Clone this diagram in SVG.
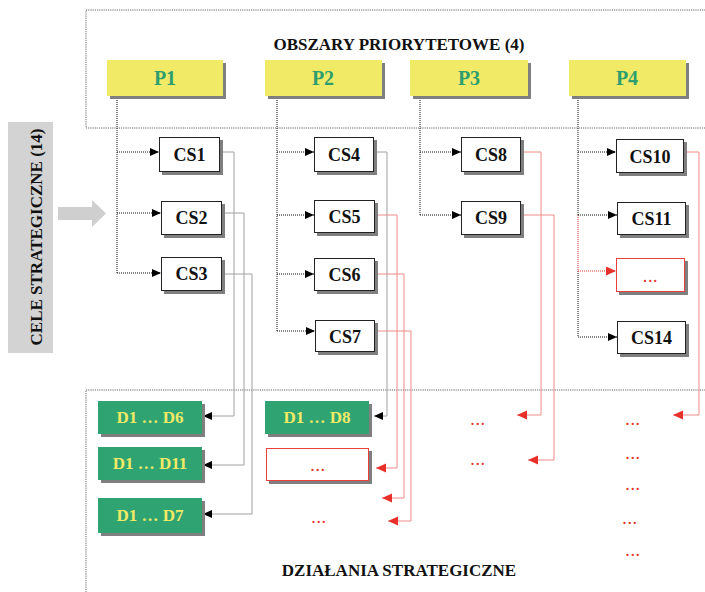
<svg xmlns="http://www.w3.org/2000/svg" width="705" height="592" viewBox="0 0 705 592">
<defs>
<style>
.frame{fill:none;stroke:#666;stroke-width:1;stroke-dasharray:1.2,1}
.title{font-family:"Liberation Serif",serif;font-weight:bold;font-size:17px;fill:#111;text-anchor:middle}
.shadow{fill:#7f7f7f}
.pbox{fill:#f1ea66}
.ptxt{font-family:"Liberation Serif",serif;font-weight:bold;font-size:20px;fill:#2e9e6e;text-anchor:middle}
.csbox{fill:#fff;stroke:#222;stroke-width:1}
.redbox{fill:#fff;stroke:#e8403a;stroke-width:1}
.cstxt{font-family:"Liberation Serif",serif;font-weight:bold;font-size:18px;fill:#111;text-anchor:middle}
.dbox{fill:#2fa372}
.dtxt{font-family:"Liberation Serif",serif;font-weight:bold;font-size:17px;fill:#f1ea66;text-anchor:middle}
.dots{font-family:"Liberation Serif",serif;font-size:18px;letter-spacing:0.6px;fill:#e8302a;text-anchor:middle}
.dotline{fill:none;stroke:#111;stroke-width:1;stroke-dasharray:1,1}
.reddot{fill:none;stroke:#e8302a;stroke-width:1;stroke-dasharray:1,1}
.gray{fill:none;stroke:#a0a0a0;stroke-width:1}
.red{fill:none;stroke:#f08a8a;stroke-width:1}
</style>
<marker id="ab" markerUnits="userSpaceOnUse" markerWidth="10" markerHeight="9" refX="9" refY="4" orient="auto"><path d="M0,0 L9,4 L0,8 z" fill="#000"/></marker>
<marker id="ar" markerUnits="userSpaceOnUse" markerWidth="11" markerHeight="10" refX="10" refY="4.5" orient="auto"><path d="M0,0 L10,4.5 L0,9 z" fill="#e8302a"/></marker>
</defs>
<rect width="705" height="592" fill="#fff"/>

<rect class="frame" x="86" y="10" width="640" height="118"/>
<rect class="frame" x="86" y="390" width="640" height="230"/>
<text class="title" x="399" y="50">OBSZARY PRIORYTETOWE (4)</text>
<text class="title" x="399" y="576">DZIAŁANIA STRATEGICZNE</text>

<g id="cele">
<rect x="8" y="122" width="45" height="231" fill="#d3d3d3"/>
<text class="title" transform="translate(42,237) rotate(-90)">CELE STRATEGICZNE (14)</text>
</g>
<g id="bigarrow"><path d="M58,207 H92 V200 L106,213.5 L92,227 V220 H58 z" fill="#cfcfcf"/></g>

<g id="connectors">
<path class="dotline" d="M117,96 V273"/>
<path class="dotline" d="M117,152 H159" marker-end="url(#ab)"/>
<path class="dotline" d="M117,213 H161" marker-end="url(#ab)"/>
<path class="dotline" d="M117,273 H161" marker-end="url(#ab)"/>
<path class="dotline" d="M277,96 V331"/>
<path class="dotline" d="M277,152 H314" marker-end="url(#ab)"/>
<path class="dotline" d="M277,215 H314" marker-end="url(#ab)"/>
<path class="dotline" d="M277,274 H314" marker-end="url(#ab)"/>
<path class="dotline" d="M277,331 H315" marker-end="url(#ab)"/>
<path class="dotline" d="M420,96 V215"/>
<path class="dotline" d="M420,152 H461" marker-end="url(#ab)"/>
<path class="dotline" d="M420,215 H461" marker-end="url(#ab)"/>
<path class="dotline" d="M578,96 V215 M578,271 V337"/>
<path class="reddot" d="M578,215 V271"/>
<path class="dotline" d="M578,152 H616" marker-end="url(#ab)"/>
<path class="dotline" d="M578,215 H617" marker-end="url(#ab)"/>
<path class="reddot" d="M578,271 H616" marker-end="url(#ar)"/>
<path class="dotline" d="M578,337 H617" marker-end="url(#ab)"/>

<path class="gray" d="M220,152 H234 V416 H203" marker-end="url(#ab)"/>
<path class="gray" d="M222,213 H244 V465 H203" marker-end="url(#ab)"/>
<path class="gray" d="M222,274 H252 V514 H203" marker-end="url(#ab)"/>
<path class="gray" d="M374,152 H387 V416 H374" marker-end="url(#ab)"/>
<path class="red" d="M375,215 H397 V468 H376" marker-end="url(#ar)"/>
<path class="red" d="M375,274 H404 V498 H382" marker-end="url(#ar)"/>
<path class="red" d="M375,331 H411 V521 H388" marker-end="url(#ar)"/>
<path class="red" d="M521,152 H541 V415 H517" marker-end="url(#ar)"/>
<path class="red" d="M521,215 H554 V460 H528" marker-end="url(#ar)"/>
<path class="red" d="M684,152 H699 V415 H673" marker-end="url(#ar)"/>
</g>

<g id="P1"><rect class="shadow" x="110" y="63" width="116" height="36"/><rect class="pbox" x="107" y="60" width="116" height="36"/><text class="ptxt" x="165" y="85">P1</text></g>
<g id="P2"><rect class="shadow" x="268" y="63" width="117" height="36"/><rect class="pbox" x="265" y="60" width="117" height="36"/><text class="ptxt" x="323" y="85">P2</text></g>
<g id="P3"><rect class="shadow" x="413" y="63" width="118" height="36"/><rect class="pbox" x="410" y="60" width="118" height="36"/><text class="ptxt" x="469" y="85">P3</text></g>
<g id="P4"><rect class="shadow" x="572" y="63" width="117" height="36"/><rect class="pbox" x="569" y="60" width="117" height="36"/><text class="ptxt" x="627" y="85">P4</text></g>

<g id="CS1"><rect class="shadow" x="162" y="140" width="61" height="35"/><rect class="csbox" x="159.5" y="137.5" width="60" height="34"/><text class="cstxt" x="189.5" y="161">CS1</text></g>
<g id="CS2"><rect class="shadow" x="164" y="204" width="61" height="34"/><rect class="csbox" x="161.5" y="201.5" width="60" height="33"/><text class="cstxt" x="191.5" y="224">CS2</text></g>
<g id="CS3"><rect class="shadow" x="164" y="260" width="61" height="34"/><rect class="csbox" x="161.5" y="257.5" width="60" height="33"/><text class="cstxt" x="191.5" y="280">CS3</text></g>
<g id="CS4"><rect class="shadow" x="317" y="140" width="60" height="35"/><rect class="csbox" x="314.5" y="137.5" width="59" height="34"/><text class="cstxt" x="344" y="161">CS4</text></g>
<g id="CS5"><rect class="shadow" x="317" y="203" width="61" height="33"/><rect class="csbox" x="314.5" y="200.5" width="60" height="32"/><text class="cstxt" x="344.5" y="223">CS5</text></g>
<g id="CS6"><rect class="shadow" x="317" y="261" width="61" height="33"/><rect class="csbox" x="314.5" y="258.5" width="60" height="32"/><text class="cstxt" x="344.5" y="281">CS6</text></g>
<g id="CS7"><rect class="shadow" x="318" y="323" width="60" height="32"/><rect class="csbox" x="315.5" y="320.5" width="59" height="31"/><text class="cstxt" x="345" y="343">CS7</text></g>
<g id="CS8"><rect class="shadow" x="464" y="140" width="60" height="35"/><rect class="csbox" x="461.5" y="137.5" width="59" height="34"/><text class="cstxt" x="491" y="161">CS8</text></g>
<g id="CS9"><rect class="shadow" x="464" y="204" width="60" height="34"/><rect class="csbox" x="461.5" y="201.5" width="59" height="33"/><text class="cstxt" x="491" y="224">CS9</text></g>
<g id="CS10"><rect class="shadow" x="619" y="142" width="68" height="34"/><rect class="csbox" x="616.5" y="139.5" width="67" height="33"/><text class="cstxt" x="650" y="163">CS10</text></g>
<g id="CS11"><rect class="shadow" x="620" y="205" width="69" height="33"/><rect class="csbox" x="617.5" y="202.5" width="68" height="32"/><text class="cstxt" x="651.5" y="225">CS11</text></g>
<g id="CSdots"><rect class="shadow" x="619" y="261" width="69" height="34"/><rect class="redbox" x="616.5" y="258.5" width="68" height="33"/><text class="dots" x="650.5" y="282">...</text></g>
<g id="CS14"><rect class="shadow" x="620" y="324" width="69" height="33"/><rect class="csbox" x="617.5" y="321.5" width="68" height="32"/><text class="cstxt" x="651.5" y="344">CS14</text></g>

<g id="D1-D6"><rect class="shadow" x="101" y="404" width="104" height="33"/><rect class="dbox" x="98" y="401" width="104" height="33"/><text class="dtxt" x="150" y="423">D1 … D6</text></g>
<g id="D1-D11"><rect class="shadow" x="101" y="450" width="104" height="33"/><rect class="dbox" x="98" y="447" width="104" height="33"/><text class="dtxt" x="150" y="469">D1 … D11</text></g>
<g id="D1-D7"><rect class="shadow" x="101" y="501" width="104" height="35"/><rect class="dbox" x="98" y="498" width="104" height="35"/><text class="dtxt" x="150" y="521">D1 … D7</text></g>
<g id="D1-D8"><rect class="shadow" x="268" y="404" width="104" height="33"/><rect class="dbox" x="265" y="401" width="104" height="33"/><text class="dtxt" x="317" y="423">D1 … D8</text></g>
<g id="Ddots"><rect class="shadow" x="269" y="451" width="103" height="33"/><rect class="redbox" x="266.5" y="448.5" width="102" height="32"/><text class="dots" x="318" y="471">...</text></g>

<g id="dots-bottom">
<text class="dots" x="319" y="523">...</text>
<text class="dots" x="478" y="425">...</text>
<text class="dots" x="478" y="465">...</text>
<text class="dots" x="633" y="425">...</text>
<text class="dots" x="633" y="459">...</text>
<text class="dots" x="633" y="490">...</text>
<text class="dots" x="630" y="524">...</text>
<text class="dots" x="633" y="556">...</text>
</g>
</svg>
